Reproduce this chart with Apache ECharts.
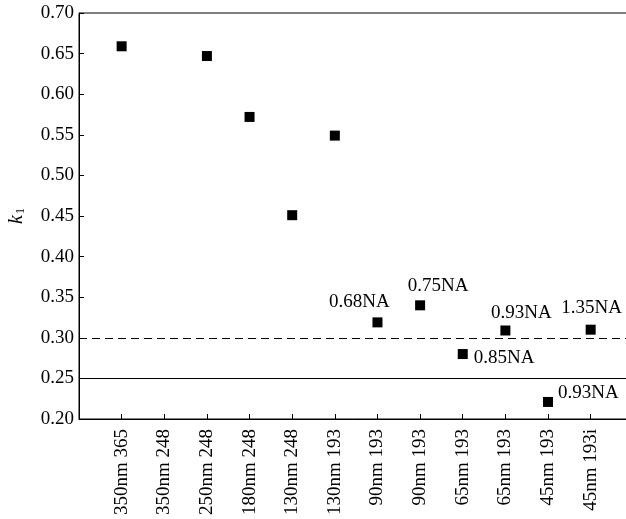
<!DOCTYPE html>
<html>
<head>
<meta charset="utf-8">
<script src="https://cdn.jsdelivr.net/npm/echarts@6/dist/echarts.min.js"></script>
<style>
html,body{margin:0;padding:0;background:#fff;}
#chart{width:626px;height:519px;}
</style>
</head>
<body>
<div id="chart"></div>
<script>
// ---- data ----
const categories = ['350nm 365','350nm 248','250nm 248','180nm 248','130nm 248','130nm 193','90nm 193','90nm 193','65nm 193','65nm 193','45nm 193','45nm 193i'];
const k1Values = [0.659, null, 0.647, 0.572, 0.451, 0.549, 0.319, 0.340, 0.280, 0.309, 0.221, 0.310];
const naLabels = ['', '', '', '', '', '', '0.68NA', '0.75NA', '0.85NA', '0.93NA', '0.93NA', '1.35NA'];
const yTicks = [0.20, 0.25, 0.30, 0.35, 0.40, 0.45, 0.50, 0.55, 0.60, 0.65, 0.70];
const dashedRef = 0.30;
const solidRef = 0.25;

// ---- label placement (style only) ----
const labelPlace = {
  6: {align:'center', offset:[-18,-20]},
  7: {align:'center', offset:[18,-19]},
  8: {align:'left', offset:[11,4]},
  9: {align:'center', offset:[16,-17]},
  10:{align:'left', offset:[10,-9]},
  11:{align:'center', offset:[1,-22]}
};

const FONT = '"Liberation Serif","DejaVu Serif",serif';

const points = [];
k1Values.forEach((v, i) => {
  if (v === null) return;
  const p = {value: [i, v]};
  if (naLabels[i]) {
    const lp = labelPlace[i];
    p.label = {
      show: true, formatter: naLabels[i], position: 'inside',
      align: lp.align, verticalAlign: 'middle', offset: lp.offset,
      color: '#000', fontFamily: FONT, fontSize: 19
    };
  }
  points.push(p);
});

const chart = echarts.init(document.getElementById('chart'), null, {renderer: 'canvas'});
chart.setOption({
  animation: false,
  backgroundColor: '#fff',
  grid: {left: 79, top: 13, width: 554.3, bottom: 100, containLabel: false, outerBoundsMode: 'none',
         show: true, borderColor: '#000', borderWidth: 1, backgroundColor: 'transparent'},
  xAxis: {
    type: 'value', min: -1, max: 12, interval: 1,
    axisLine: {show: true, onZero: false, lineStyle: {color: '#000', width: 1}},
    axisTick: {show: true, inside: true, length: 5, lineStyle: {color: '#000'}},
    splitLine: {show: false},
    axisLabel: {
      rotate: 90, margin: 10, color: '#000', fontFamily: FONT, fontSize: 19,
      showMinLabel: false, showMaxLabel: false,
      formatter: v => (Number.isInteger(v) && v >= 0 && v < categories.length) ? categories[v] : ''
    }
  },
  yAxis: {
    type: 'value', min: yTicks[0], max: yTicks[yTicks.length - 1], interval: 0.05,
    name: '{k|k}{s|1}', nameLocation: 'middle', nameRotate: 90, nameGap: 52,
    nameTextStyle: {
      rich: {
        k: {fontFamily: FONT, fontStyle: 'italic', fontSize: 20, color: '#000'},
        s: {fontFamily: FONT, fontSize: 12, color: '#000', verticalAlign: 'bottom', padding: [8, 0, 0, 1]}
      }
    },
    axisLine: {show: true, onZero: false, lineStyle: {color: '#000', width: 1}},
    axisTick: {show: true, inside: true, length: 5, lineStyle: {color: '#000'}},
    splitLine: {show: false},
    axisLabel: {margin: 5, color: '#000', fontFamily: FONT, fontSize: 19, formatter: v => v.toFixed(2)}
  },
  series: [{
    type: 'scatter',
    symbol: 'rect', symbolSize: 10,
    itemStyle: {color: '#000', opacity: 1},
    data: points,
    markLine: {
      silent: true, symbol: 'none', label: {show: false},
      data: [
        {yAxis: dashedRef, lineStyle: {type: [8, 5], color: '#000', width: 1.2}},
        {yAxis: solidRef, lineStyle: {type: 'solid', color: '#000', width: 1.2}}
      ]
    }
  }]
});
</script>
</body>
</html>
